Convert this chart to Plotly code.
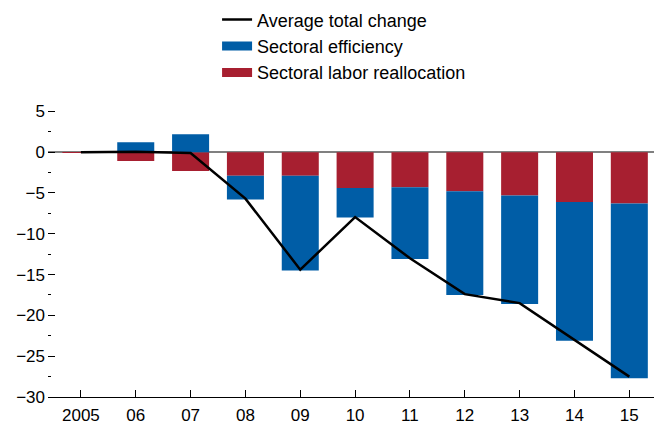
import plotly.graph_objects as go

years = [2005, 2006, 2007, 2008, 2009, 2010, 2011, 2012, 2013, 2014, 2015]
tick_labels = ["2005", "06", "07", "08", "09", "10", "11", "12", "13", "14", "15"]
labor_realloc = [-0.1, -1.1, -2.3, -2.9, -2.9, -4.4, -4.3, -4.8, -5.3, -6.1, -6.3]
sector_eff = [0.0, 1.2, 2.2, -2.9, -11.6, -3.6, -8.8, -12.7, -13.3, -17.0, -21.4]
avg_total = [0.0, 0.05, -0.1, -5.7, -14.4, -7.95, -13.0, -17.4, -18.5, -23.0, -27.5]

BLUE = "#005DA6"
RED = "#A71F30"
FONT = "Liberation Sans, Arial, sans-serif"

fig = go.Figure()
fig.add_trace(go.Bar(x=years, y=labor_realloc, marker=dict(color=RED, line=dict(width=0)),
                     width=0.675, showlegend=False, name="Sectoral labor reallocation"))
fig.add_trace(go.Bar(x=years, y=sector_eff, marker=dict(color=BLUE, line=dict(width=0)),
                     width=0.675, showlegend=False, name="Sectoral efficiency"))
fig.add_trace(go.Scatter(x=years, y=avg_total, mode="lines", line=dict(color="black", width=2.5),
                         name="Average total change"))
# legend-only entries for bars (wide swatches)
fig.add_trace(go.Scatter(x=[None], y=[None], mode="lines", line=dict(color=BLUE, width=9),
                         name="Sectoral efficiency"))
fig.add_trace(go.Scatter(x=[None], y=[None], mode="lines", line=dict(color=RED, width=9),
                         name="Sectoral labor reallocation"))

fig.update_layout(
    width=654, height=424,
    barmode="relative",
    plot_bgcolor="white", paper_bgcolor="white",
    margin=dict(l=48, r=0, t=95, b=27),
    font=dict(family=FONT, size=17, color="black"),
    legend=dict(x=0.279, y=1.31, xanchor="left", yanchor="top", font=dict(size=18),
                bgcolor="rgba(0,0,0,0)", tracegroupgap=0),
    xaxis=dict(range=[2004.4, 2015.45], tickvals=years, ticktext=tick_labels,
               showgrid=False, showline=True, linecolor="black", linewidth=1,
               ticks="inside", ticklen=7, tickcolor="black", zeroline=False,
               ticklabelstandoff=3),
    yaxis=dict(range=[-30, 7], tickvals=[5, 0, -5, -10, -15, -20, -25, -30],
               showgrid=False, showline=False, ticks="inside", ticklen=7,
               tickcolor="black", zeroline=True, zerolinecolor="#808080", zerolinewidth=1.5,
               layer="above traces", ticklabelstandoff=2,
               minor=dict(tickvals=[2.5, -2.5, -7.5, -12.5, -17.5, -22.5, -27.5],
                          ticks="inside", ticklen=3, tickcolor="black", showgrid=False)),
)

fig.write_html("out.html", config={"displayModeBar": False},
               post_script="document.body.style.margin='0';")
